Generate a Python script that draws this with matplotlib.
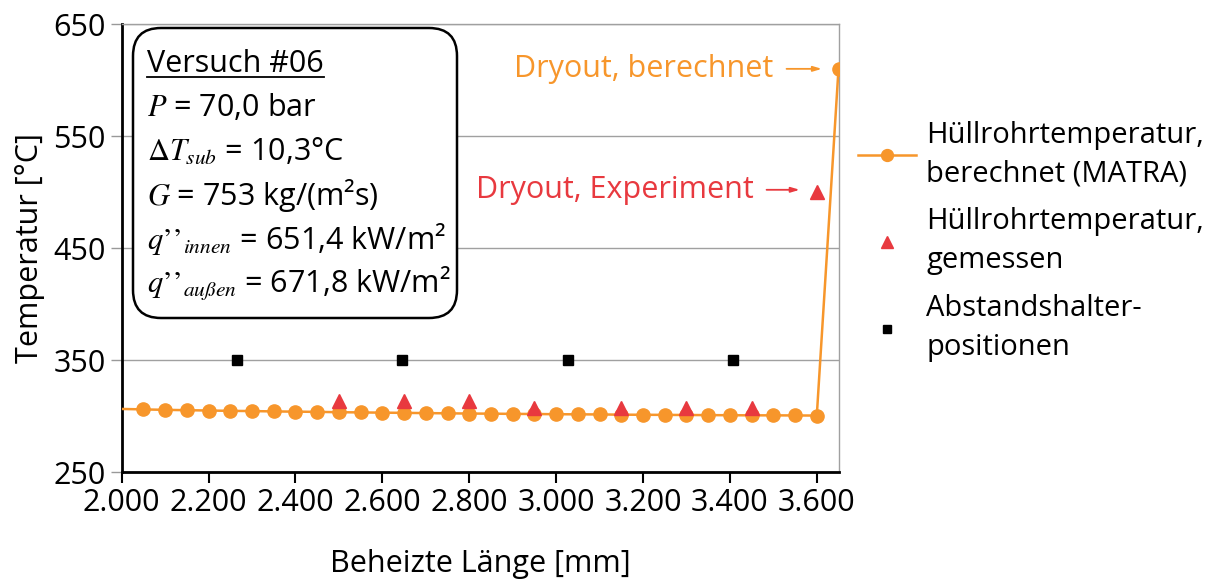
import matplotlib
matplotlib.use("Agg")
import matplotlib.pyplot as plt
from matplotlib.patches import FancyBboxPatch
from matplotlib.lines import Line2D

plt.rcParams['font.family'] = ['Open Sans', 'DejaVu Sans']
plt.rcParams['mathtext.fontset'] = 'stix'

# berechnete Hüllrohrtemperatur (MATRA), Schritt 50 mm
x_calc = [2000, 2050, 2100, 2150, 2200, 2250, 2300, 2350, 2400, 2450, 2500,
          2550, 2600, 2650, 2700, 2750, 2800, 2850, 2900, 2950, 3000, 3050,
          3100, 3150, 3200, 3250, 3300, 3350, 3400, 3450, 3500, 3550, 3600, 3650]
t_calc = [306.3, 305.9, 305.5, 305.2, 304.9, 304.6, 304.4, 304.1, 303.9, 303.7,
          303.4, 303.2, 303.0, 302.8, 302.6, 302.4, 302.2, 302.1, 301.9, 301.8,
          301.6, 301.5, 301.4, 301.2, 301.1, 301.0, 300.9, 300.8, 300.7, 300.6,
          300.6, 300.5, 300.4, 610.0]

# gemessene Hüllrohrtemperatur
x_meas = [2500, 2650, 2800, 2950, 3150, 3300, 3450, 3600]
t_meas = [313, 313, 313, 307, 307, 307, 307, 500]

# Abstandshalterpositionen
x_spacer = [2265, 2646, 3027, 3408]
t_spacer = [350, 350, 350, 350]

x_ticks = [2000, 2200, 2400, 2600, 2800, 3000, 3200, 3400, 3600]
x_ticklabels = ['2.000', '2.200', '2.400', '2.600', '2.800', '3.000', '3.200', '3.400', '3.600']
y_ticks = [250, 350, 450, 550, 650]

info_title = 'Versuch #06'
info_lines = [r'$P$ = 70,0 bar',
              r'$\Delta T_{sub}$ = 10,3°C',
              r'$G$ = 753 kg/(m²s)',
              r"$q’’_{innen}$ = 651,4 kW/m²",
              r"$q’’_{außen}$ = 671,8 kW/m²"]

orange = '#F7962B'
red = '#E8393F'
fs = 22

fig = plt.figure(figsize=(12.17, 5.81), dpi=100)
ax = fig.add_axes([0.100, 0.1876, 0.589, 0.771])

ax.plot(x_calc, t_calc, color=orange, lw=1.8, marker='o', ms=9.5,
        markevery=slice(1, None), label='Hüllrohrtemperatur,\nberechnet (MATRA)', zorder=3)
ax.plot(x_meas, t_meas, ls='none', marker='^', ms=10, color=red,
        label='Hüllrohrtemperatur,\ngemessen', zorder=4)
ax.plot(x_spacer, t_spacer, ls='none', marker='s', ms=7, color='black',
        label='Abstandshalter-\npositionen', zorder=4)

ax.set_xlim(2000, 3650)
ax.set_ylim(250, 650)
ax.set_xticks(x_ticks)
ax.set_xticklabels(x_ticklabels)
ax.set_yticks(y_ticks)
ax.tick_params(axis='both', labelsize=fs, width=1.5, length=8, direction='out', color='black')
ax.tick_params(axis='y', color='#999999', width=1)
ax.yaxis.grid(True, color='#A0A0A0', lw=1)
ax.set_axisbelow(True)
for side in ('left', 'bottom'):
    ax.spines[side].set_linewidth(2)
    ax.spines[side].set_color('black')
for side in ('top', 'right'):
    ax.spines[side].set_linewidth(1)
    ax.spines[side].set_color('#A0A0A0')

ax.set_xlabel('Beheizte Länge [mm]', fontsize=fs, labelpad=22)
ax.set_ylabel('Temperatur [°C]', fontsize=fs, labelpad=6)

# Infobox (in Zoll, damit die Ecken rund bleiben)
box = FancyBboxPatch((1.33, 2.63), 3.24, 2.90, transform=fig.dpi_scale_trans,
                     boxstyle='round,pad=0,rounding_size=0.28', fc='white',
                     ec='black', lw=1.8, zorder=5)
ax.add_patch(box)
title = ax.text(0.035, 0.893, info_title, transform=ax.transAxes, fontsize=fs,
                va='baseline', zorder=6)
baselines = [0.795, 0.694, 0.596, 0.498, 0.400]
for yb, line in zip(baselines, info_lines):
    ax.text(0.035, yb, line, transform=ax.transAxes, fontsize=fs, va='baseline', zorder=6)

# Dryout-Markierungen
ax.text(3500, 610, 'Dryout, berechnet', color=orange, fontsize=fs, ha='right', va='center')
ax.annotate('', xy=(3618, 610), xytext=(3524, 610),
            arrowprops=dict(arrowstyle='-|>,head_length=0.5,head_width=0.15', color=orange, lw=1.3))
ax.text(3455, 502, 'Dryout, Experiment', color=red, fontsize=fs, ha='right', va='center')
ax.annotate('', xy=(3567, 502), xytext=(3478, 502),
            arrowprops=dict(arrowstyle='-|>,head_length=0.5,head_width=0.15', color=red, lw=1.3))

leg = ax.legend(loc='upper left', bbox_to_anchor=(843 / 1217, 1 - 106 / 581),
                bbox_transform=fig.transFigure, frameon=False, fontsize=21,
                handlelength=2.0, handletextpad=0.35, borderpad=0, labelspacing=0.65,
                markerscale=0.9)
for t in leg.get_texts():
    t.set_linespacing(1.45)

# Unterstreichung der Überschrift
fig.canvas.draw()
bb = title.get_window_extent().transformed(ax.transAxes.inverted())
ax.add_line(Line2D([bb.x0, bb.x1], [bb.y0 + 0.004, bb.y0 + 0.004], transform=ax.transAxes,
                   color='black', lw=1.3, zorder=6))

fig.savefig('out.png', dpi=100)
